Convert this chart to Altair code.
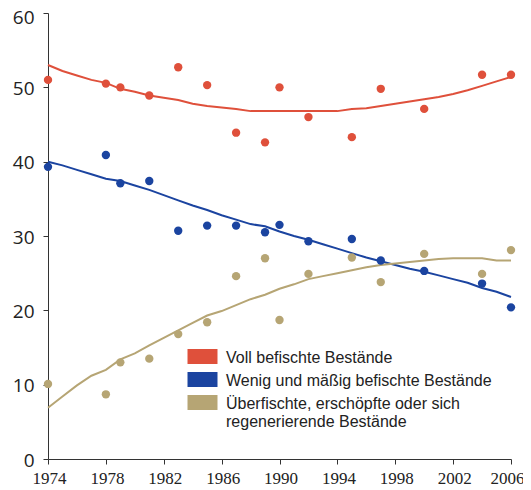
import altair as alt
import pandas as pd

# ---- data ----
series_names = [
    "Voll befischte Bestände",
    "Wenig und mäßig befischte Bestände",
    "Überfischte, erschöpfte oder sich|regenerierende Bestände",
]
colors = ["#DF503B", "#1B44A0", "#B6A574"]

point_years = [1974, 1978, 1979, 1981, 1983, 1985, 1987, 1989, 1990, 1992, 1995, 1997, 2000, 2004, 2006]
voll_points = [51.0, 50.5, 50.0, 48.9, 52.7, 50.3, 43.9, 42.6, 50.0, 46.0, 43.3, 49.8, 47.1, 51.7, 51.7]
wenig_points = [39.3, 40.9, 37.1, 37.4, 30.7, 31.4, 31.4, 30.5, 31.5, 29.3, 29.6, 26.7, 25.3, 23.6, 20.4]
ueber_points = [10.1, 8.7, 13.0, 13.5, 16.8, 18.4, 24.6, 27.0, 18.7, 24.9, 27.1, 23.8, 27.6, 24.9, 28.1]

line_years = list(range(1974, 2007))
voll_line = [53.0, 52.2, 51.6, 51.0, 50.6, 49.8, 49.4, 48.9, 48.6, 48.3, 47.8, 47.5, 47.3, 47.1,
             46.8, 46.8, 46.8, 46.8, 46.8, 46.8, 46.8, 47.1, 47.2, 47.5, 47.8, 48.1, 48.4, 48.7,
             49.1, 49.6, 50.2, 50.8, 51.4]
wenig_line = [40.0, 39.5, 38.9, 38.3, 37.7, 37.4, 36.8, 36.2, 35.5, 34.8, 34.1, 33.5, 32.8, 32.2,
              31.6, 31.3, 30.6, 30.0, 29.5, 28.9, 28.3, 27.7, 27.1, 26.6, 26.1, 25.6, 25.2, 24.7,
              24.2, 23.7, 23.0, 22.5, 21.8]
ueber_line = [6.9, 8.4, 9.9, 11.2, 12.0, 13.4, 14.2, 15.3, 16.3, 17.3, 18.3, 19.3, 19.9, 20.7,
              21.5, 22.1, 22.9, 23.5, 24.2, 24.6, 25.0, 25.4, 25.8, 26.1, 26.3, 26.5, 26.7, 26.9,
              27.0, 27.0, 27.0, 26.7, 26.7]

x_ticks = list(range(1974, 2007, 4))
y_ticks = [0, 10, 20, 30, 40, 50, 60]

pts = pd.concat([
    pd.DataFrame({"year": point_years, "value": v, "series": s})
    for v, s in zip([voll_points, wenig_points, ueber_points], series_names)
])
lns = pd.concat([
    pd.DataFrame({"year": line_years, "value": v, "series": s})
    for v, s in zip([voll_line, wenig_line, ueber_line], series_names)
])

color_scale = alt.Scale(domain=series_names, range=colors)
x_enc = alt.X("year:Q", scale=alt.Scale(domain=[1974, 2006], nice=False),
              axis=alt.Axis(values=x_ticks, format="d", title=None, grid=False,
                            labelFont="Liberation Sans Narrow", labelFontSize=17,
                            labelColor="#222", tickColor="#333", domainColor="#333",
                            tickSize=5, labelPadding=6, labelFlush=False,
                            labelOffset={"condition": {"test": "datum.value == 2006", "value": -4},
                                         "value": 1}))
y_enc = alt.Y("value:Q", scale=alt.Scale(domain=[0, 60], nice=False),
              axis=alt.Axis(values=y_ticks, title=None, grid=False,
                            labelFont="Open Sans", labelFontSize=19,
                            labelColor="#222", tickColor="#333", domainColor="#333",
                            tickSize=5, labelPadding=9,
                            labelOffset={"condition": {"test": "datum.value == 60", "value": 4},
                                         "value": 1}))

lines = alt.Chart(lns).mark_line(strokeWidth=2).encode(
    x=x_enc, y=y_enc,
    color=alt.Color("series:N", scale=color_scale, legend=None),
    detail="series:N",
)

points = alt.Chart(pts).mark_circle(size=70, opacity=1).encode(
    x=x_enc, y=y_enc,
    fill=alt.Fill("series:N", scale=color_scale, sort=series_names,
                  legend=alt.Legend(
                      title=None, orient="none", legendX=146.5, legendY=342,
                      symbolType="M-2,-1.87H2V0.13H-2Z", symbolSize=225,
                      symbolStrokeWidth=0, symbolOpacity=1,
                      labelFont="Liberation Sans", labelFontSize=16, labelColor="#222",
                      labelBaseline="alphabetic", labelOffset=15.5, labelLimit=400,
                      labelExpr="split(datum.label, '|')",
                      rowPadding=5, padding=0)),
)

chart = alt.layer(lines, points).resolve_legend(color="independent", fill="independent").properties(
    width=463, height=446,
    autosize=alt.AutoSizeParams(type="none"),
    padding={"left": 40, "top": 5, "right": 12, "bottom": 30},
).configure_view(stroke=None)

chart.save("out.html", embed_options={"renderer": "svg", "actions": False})
